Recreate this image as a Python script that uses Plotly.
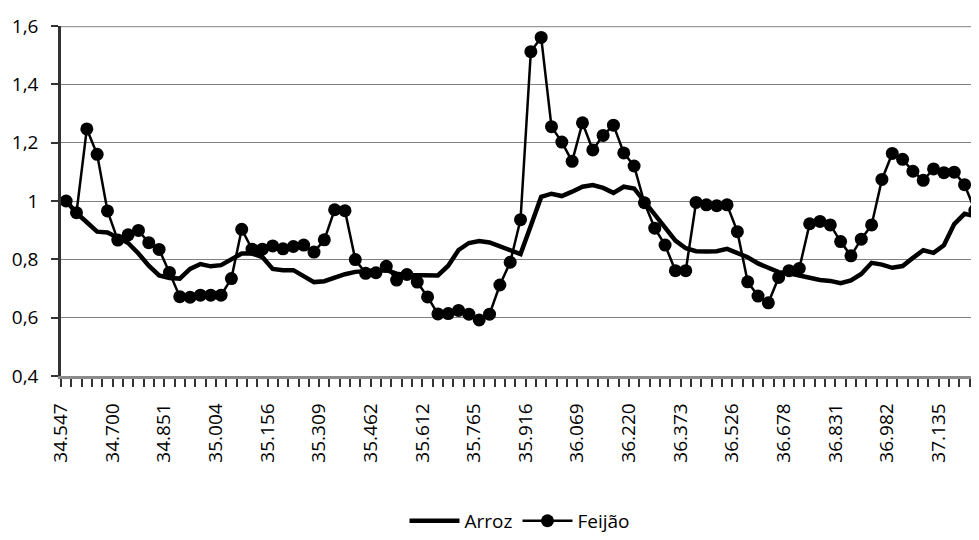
"""Arroz x Feijão price index chart (Plotly)."""
import plotly.graph_objects as go

# Monthly dates shown as Excel serial numbers (one label every 5 months)
tick_labels = ['34.547', '34.700', '34.851', '35.004', '35.156', '35.309',
               '35.462', '35.612', '35.765', '35.916', '36.069', '36.220',
               '36.373', '36.526', '36.678', '36.831', '36.982', '37.135']

arroz = [1.000, 0.959, 0.927, 0.895, 0.892, 0.876, 0.856, 0.820, 0.778, 0.745,
         0.736, 0.734, 0.767, 0.784, 0.776, 0.780, 0.798, 0.820, 0.820, 0.808,
         0.767, 0.763, 0.763, 0.743, 0.722, 0.725, 0.738, 0.749, 0.757, 0.761,
         0.762, 0.763, 0.751, 0.746, 0.745, 0.745, 0.745, 0.778, 0.832, 0.856,
         0.863, 0.858, 0.844, 0.832, 0.818, 0.915, 1.014, 1.025, 1.017, 1.032,
         1.049, 1.055, 1.045, 1.028, 1.049, 1.043, 0.999, 0.955, 0.905, 0.864,
         0.838, 0.828, 0.827, 0.828, 0.836, 0.821, 0.807, 0.786, 0.770, 0.756,
         0.752, 0.745, 0.735, 0.729, 0.726, 0.718, 0.728, 0.750, 0.788, 0.782,
         0.771, 0.777, 0.805, 0.831, 0.822, 0.848, 0.921, 0.956, 0.948, 0.940]

feijao = [1.000, 0.960, 1.247, 1.160, 0.966, 0.866, 0.884, 0.899, 0.857, 0.834,
          0.755, 0.672, 0.670, 0.677, 0.677, 0.677, 0.734, 0.903, 0.835, 0.835,
          0.846, 0.836, 0.844, 0.849, 0.825, 0.867, 0.970, 0.967, 0.799, 0.752,
          0.754, 0.776, 0.729, 0.748, 0.722, 0.671, 0.613, 0.614, 0.625, 0.612,
          0.592, 0.612, 0.712, 0.790, 0.936, 1.512, 1.561, 1.255, 1.202, 1.136,
          1.268, 1.175, 1.225, 1.260, 1.165, 1.120, 0.994, 0.907, 0.849, 0.761,
          0.761, 0.995, 0.987, 0.984, 0.987, 0.895, 0.723, 0.674, 0.651, 0.738,
          0.761, 0.769, 0.922, 0.930, 0.918, 0.861, 0.812, 0.869, 0.918, 1.074,
          1.163, 1.143, 1.102, 1.071, 1.110, 1.097, 1.099, 1.056, 0.968, 0.960]

x = list(range(len(arroz)))
FONT = 'Open Sans'

fig = go.Figure()

fig.add_trace(go.Scatter(
    x=x, y=arroz, name='Arroz', mode='lines',
    line=dict(color='black', width=4.5),
))

fig.add_trace(go.Scatter(
    x=x, y=feijao, name='Feijão', mode='lines+markers',
    line=dict(color='black', width=2.5),
    marker=dict(color='black', size=13),
))

# Plot-area top border
fig.add_shape(type='line', xref='paper', yref='y', x0=0, x1=1, y0=1.6, y1=1.6,
              line=dict(color='#9a9a9a', width=2.5), layer='below')

# page body has an 8px margin, so the figure is shifted by that amount
fig.update_layout(
    width=971, height=532,
    margin=dict(l=53, r=0, t=18, b=158),
    paper_bgcolor='white', plot_bgcolor='white',
    separators=',.',
    font=dict(family=FONT, size=19, color='black'),
    showlegend=True,
    legend=dict(orientation='h', x=0.5, xanchor='center', y=-0.414, yanchor='middle',
                font=dict(size=19), itemwidth=50, tracegroupgap=0),
    xaxis=dict(
        range=[-0.5, 88.4], showgrid=False, zeroline=False, automargin=False,
        tickmode='array', tickvals=[5 * k - 0.5 for k in range(len(tick_labels))],
        ticktext=tick_labels, tickangle=-90,
        ticks='outside', ticklen=8, tickwidth=1.5, tickcolor='#333',
        ticklabelstandoff=9,
        minor=dict(ticks='outside', dtick=1, tick0=-0.5, ticklen=8,
                   tickwidth=1.5, tickcolor='#333'),
        showline=True, linecolor='#8a8a8a', linewidth=2.5,
    ),
    yaxis=dict(
        range=[0.4, 1.6], dtick=0.2, tick0=0.4, automargin=False,
        showgrid=True, gridcolor='#808080', gridwidth=1, zeroline=False,
        ticks='outside', ticklen=7, tickwidth=1.5, tickcolor='#333',
        ticklabelstandoff=9,
        showline=True, linecolor='#333', linewidth=2.5,
    ),
)

fig.write_html('out.html')
